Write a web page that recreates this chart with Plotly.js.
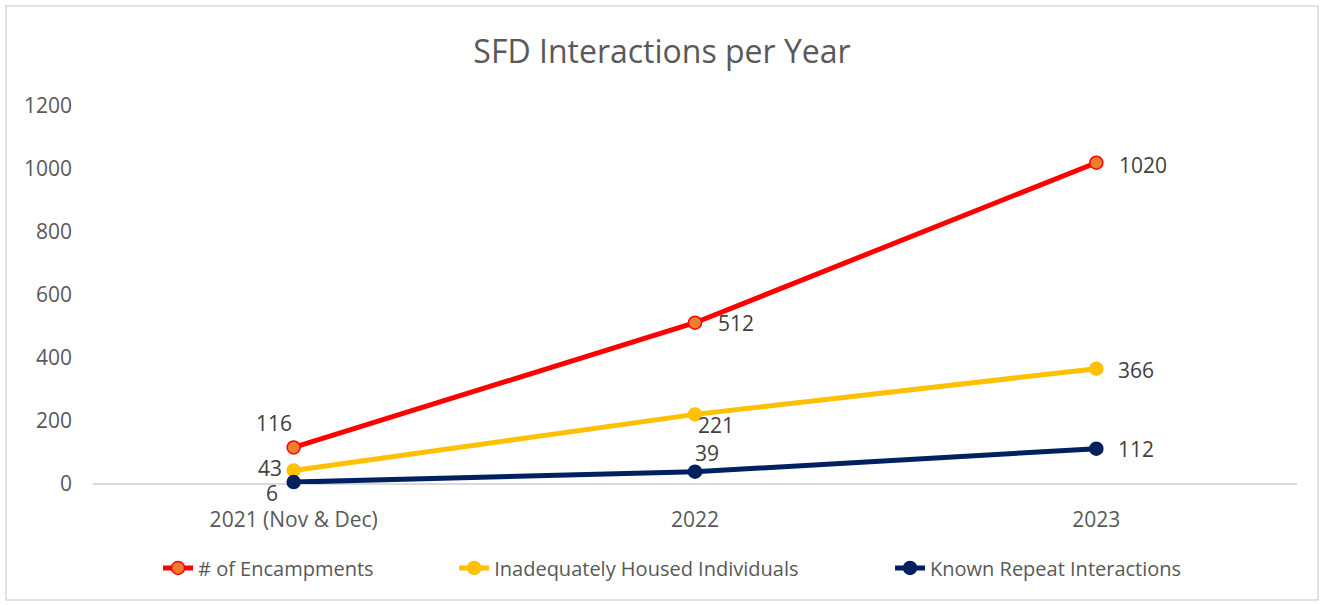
<!DOCTYPE html>
<html>
<head>
<meta charset="utf-8">
<script src="https://cdn.plot.ly/plotly-3.0.1.min.js"></script>
<style>
body { margin: 0; background: #ffffff; }
#chart { width: 1324px; height: 605px; }
</style>
</head>
<body>
<div id="chart"></div>
<script>
var years = [ '2021 (Nov & Dec)', '2022', '2023' ];

var encampments = [ 116, 512, 1020 ];
var housed = [ 43, 221, 366 ];
var repeats = [ 6, 39, 112 ];

// label offsets from each point, in pixels [dx, dy up]
var encampments_shift = [ [ -20, 24 ], [ 41, 0 ], [ 47, -2 ] ];
var housed_shift = [ [ -24, 2 ], [ 21, -11 ], [ 40, -1 ] ];
var repeats_shift = [ [ -22, -11 ], [ 12, 19 ], [ 40, 0 ] ];

var FONT = '"Open Sans", "Noto Sans", sans-serif';

function make_trace( name, values, line_color, fill_color, legend_id )
{
    return {
        type: 'scatter',
        mode: 'lines+markers',
        name: name,
        legend: legend_id,
        x: years,
        y: values,
        cliponaxis: false,
        hoverinfo: 'x+y+name',
        line: { color: line_color, width: 5 },
        marker:
        {
            size: 13,
            color: fill_color,
            line: { color: line_color, width: 1.5 }
        }
    };
}

function make_labels( values, shifts )
{
    var out = [];
    for( var i = 0; i < values.length; i++ )
    {
        out.push(
            {
                x: i, // category index, '2022' would be read as a number
                y: values[ i ],
                xref: 'x',
                yref: 'y',
                text: String( values[ i ] ),
                showarrow: false,
                xanchor: 'center',
                yanchor: 'middle',
                xshift: shifts[ i ][ 0 ],
                yshift: shifts[ i ][ 1 ],
                borderpad: 0,
                font: { family: FONT, size: 21, color: '#404040' }
            }
        );
    }
    return out;
}

var data =
[
    make_trace( '# of Encampments', encampments, '#ff0000', '#ed7d31', 'legend' ),
    make_trace( 'Inadequately Housed Individuals', housed, '#ffc000', '#ffc000', 'legend2' ),
    make_trace( 'Known Repeat Interactions', repeats, '#002060', '#002060', 'legend3' )
];

function legend_at( x )
{
    return {
        orientation: 'h',
        x: x,
        xanchor: 'left',
        y: -0.222,
        yanchor: 'middle',
        bgcolor: 'rgba(0,0,0,0)',
        font: { family: FONT, size: 20, color: '#595959' }
    };
}

var layout =
{
    width: 1324,
    height: 605,
    paper_bgcolor: '#ffffff',
    plot_bgcolor: '#ffffff',
    font: { family: FONT, color: '#595959', size: 20 },
    title:
    {
        text: 'SFD Interactions per Year',
        font: { family: FONT, size: 32, color: '#595959' },
        x: 0.5,
        xanchor: 'center',
        y: 0.914,
        yanchor: 'middle'
    },
    margin: { l: 93, r: 27, t: 106, b: 121 },
    showlegend: true,
    legend: legend_at( 0.054 ),
    legend2: legend_at( 0.300 ),
    legend3: legend_at( 0.662 ),
    xaxis:
    {
        type: 'category',
        showgrid: false,
        zeroline: false,
        showline: false,
        ticks: '',
        ticklabelstandoff: 21,
        tickfont: { family: FONT, size: 21, color: '#595959' },
        range: [ -0.5, 2.5 ]
    },
    yaxis:
    {
        range: [ 0, 1200 ],
        dtick: 200,
        showgrid: false,
        zeroline: true,
        zerolinecolor: '#d9d9d9',
        zerolinewidth: 1.5,
        showline: false,
        ticks: '',
        ticklabelstandoff: 20,
        tickfont: { family: FONT, size: 21, color: '#595959' }
    },
    annotations: make_labels( encampments, encampments_shift )
        .concat( make_labels( housed, housed_shift ) )
        .concat( make_labels( repeats, repeats_shift ) ),
    shapes:
    [
        {
            type: 'rect',
            xref: 'paper',
            yref: 'paper',
            x0: -0.0723,
            x1: 1.0174,
            y0: -0.3069,
            y1: 1.2646,
            line: { color: '#d9d9d9', width: 1.5 },
            layer: 'below'
        }
    ]
};

var config = { responsive: false, displayModeBar: false };

Plotly.newPlot( document.getElementById( 'chart' ), data, layout, config );
</script>
</body>
</html>
